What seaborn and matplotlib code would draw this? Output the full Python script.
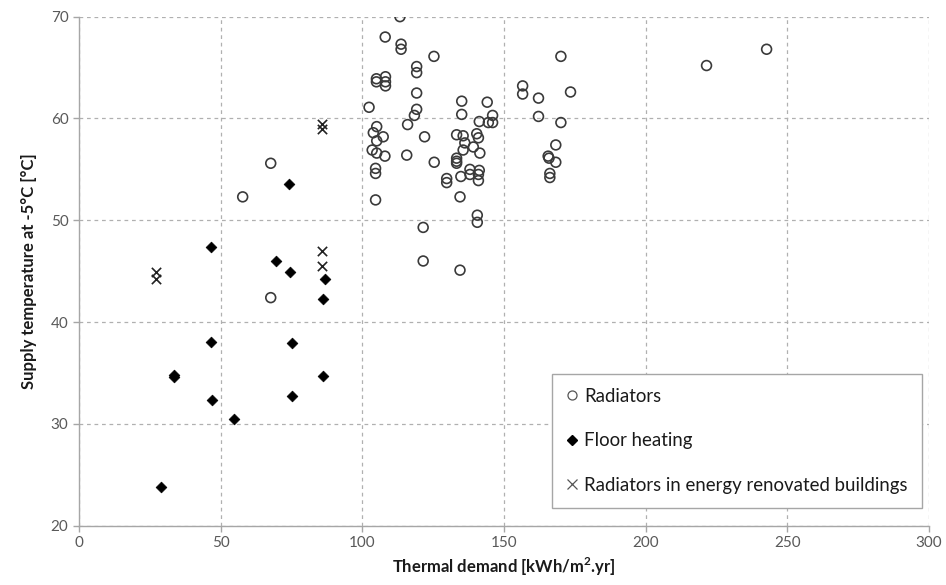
import matplotlib
matplotlib.use("Agg")
import matplotlib.pyplot as plt
import seaborn as sns
import pandas as pd
from matplotlib.lines import Line2D

# ---- data ----
rad_x = [102.4, 105.0, 105.0, 108.2, 108.2, 108.2, 105.1, 103.9, 107.4, 105.1, 103.5, 105.1,
         108.0, 104.7, 104.7, 104.7, 108.1, 113.3, 113.7, 113.7, 125.3, 119.2, 119.2, 119.2,
         119.2, 118.4, 116.0, 115.7, 122.0, 125.4, 121.5, 121.5, 134.5, 135.1, 135.1, 144.1,
         146.0, 146.0, 144.5, 141.3, 133.3, 135.6, 140.4, 141.0, 136.2, 139.2, 135.6, 141.5,
         133.3, 133.3, 133.3, 138.0, 141.3, 138.0, 141.0, 134.8, 141.0, 129.8, 129.8, 134.5,
         140.6, 140.6, 156.6, 156.6, 162.2, 162.2, 173.5, 170.1, 170.1, 168.3, 165.6, 165.9,
         168.3, 166.2, 166.2, 221.5, 242.7, 67.7, 57.8, 67.7]
rad_y = [61.1, 63.9, 63.6, 64.1, 63.6, 63.2, 59.2, 58.6, 58.2, 57.8, 56.9, 56.6,
         56.3, 55.1, 54.6, 52.0, 68.0, 70.0, 67.3, 66.8, 66.1, 65.1, 64.5, 62.5,
         60.9, 60.3, 59.4, 56.4, 58.2, 55.7, 49.3, 46.0, 45.1, 61.7, 60.4, 61.6,
         60.3, 59.6, 59.6, 59.7, 58.4, 58.3, 58.5, 58.1, 57.6, 57.2, 56.9, 56.6,
         56.1, 55.8, 55.6, 55.0, 54.9, 54.5, 54.5, 54.3, 53.9, 54.1, 53.7, 52.3,
         50.5, 49.8, 63.2, 62.4, 62.0, 60.2, 62.6, 66.1, 59.6, 57.4, 56.3, 56.1,
         55.7, 54.6, 54.2, 65.2, 66.8, 55.6, 52.3, 42.4]

floor_x = [74.3, 46.5, 69.4, 74.5, 86.7, 86.0, 46.5, 75.1, 86.0, 47.1, 75.1, 54.7, 33.6, 33.6, 29.0]
floor_y = [53.6, 47.4, 46.0, 44.9, 44.2, 42.3, 38.0, 37.9, 34.7, 32.3, 32.7, 30.5, 34.8, 34.6, 23.8]

reno_x = [27.1, 27.1, 85.9, 85.9, 85.9, 85.9]
reno_y = [44.9, 44.2, 59.5, 59.0, 47.0, 45.5]

labels = ["Radiators", "Floor heating", "Radiators in energy renovated buildings"]
x_ticks = [0, 50, 100, 150, 200, 250, 300]
y_ticks = [20, 30, 40, 50, 60, 70]

sns.set_style("white")
plt.rcParams['font.family'] = ['Lato', 'DejaVu Sans']

fig = plt.figure(figsize=(9.46, 5.85), dpi=100)
ax = fig.add_axes([0.0834, 0.1014, 0.8986, 0.8701])

df_r = pd.DataFrame({"x": rad_x, "y": rad_y})
df_f = pd.DataFrame({"x": floor_x, "y": floor_y})
df_e = pd.DataFrame({"x": reno_x, "y": reno_y})

sns.scatterplot(data=df_r, x="x", y="y", ax=ax, marker="o", s=50,
                facecolor="none", edgecolor="#3a3a3a", linewidth=1.2, zorder=3)
sns.scatterplot(data=df_f, x="x", y="y", ax=ax, marker="D", s=30,
                color="black", edgecolor="black", linewidth=0.5, zorder=3)
sns.scatterplot(data=df_e, x="x", y="y", ax=ax, marker="x", s=45,
                color="#222222", linewidth=1.2, zorder=3)

ax.set_xlim(0, 300)
ax.set_ylim(20, 70)
ax.set_xticks(x_ticks)
ax.set_yticks(y_ticks)
ax.grid(True, color="#b0b0b0", linestyle=(0, (3, 3)), linewidth=0.9)
ax.set_axisbelow(True)
for s in ["top", "right"]:
    ax.spines[s].set_visible(False)
for s in ["left", "bottom"]:
    ax.spines[s].set_color("#a6a6a6")
    ax.spines[s].set_linewidth(1.0)
ax.tick_params(axis="both", colors="#a6a6a6", labelcolor="#595959", labelsize=11,
               length=4, width=1.0, direction="out", left=True, bottom=True)

ax.set_xlabel("Thermal demand [kWh/m$^\\mathregular{2}$.yr]", fontsize=12, fontweight="bold",
              color="#1a1a1a", labelpad=4)
ax.set_ylabel("Supply temperature at -5°C [°C]", fontsize=12, fontweight="bold",
              color="#1a1a1a", labelpad=10)

handles = [
    Line2D([], [], marker="o", linestyle="none", markersize=6.5, markerfacecolor="none",
           markeredgecolor="#555555", markeredgewidth=0.9),
    Line2D([], [], marker="D", linestyle="none", markersize=5, markerfacecolor="black",
           markeredgecolor="black"),
    Line2D([], [], marker="x", linestyle="none", markersize=7, markeredgecolor="#555555",
           markeredgewidth=0.9),
]
leg = ax.legend(handles, labels, loc="lower left", bbox_to_anchor=(0.556, 0.035),
                fontsize=13.4, frameon=True, fancybox=False, framealpha=1,
                edgecolor="#a6a6a6", labelspacing=1.48, handlelength=0.7,
                handletextpad=0.3, borderpad=0.75, borderaxespad=0)
leg.get_frame().set_linewidth(1.0)
for t in leg.get_texts():
    t.set_color("#1a1a1a")

fig.savefig("out.png", dpi=100)
